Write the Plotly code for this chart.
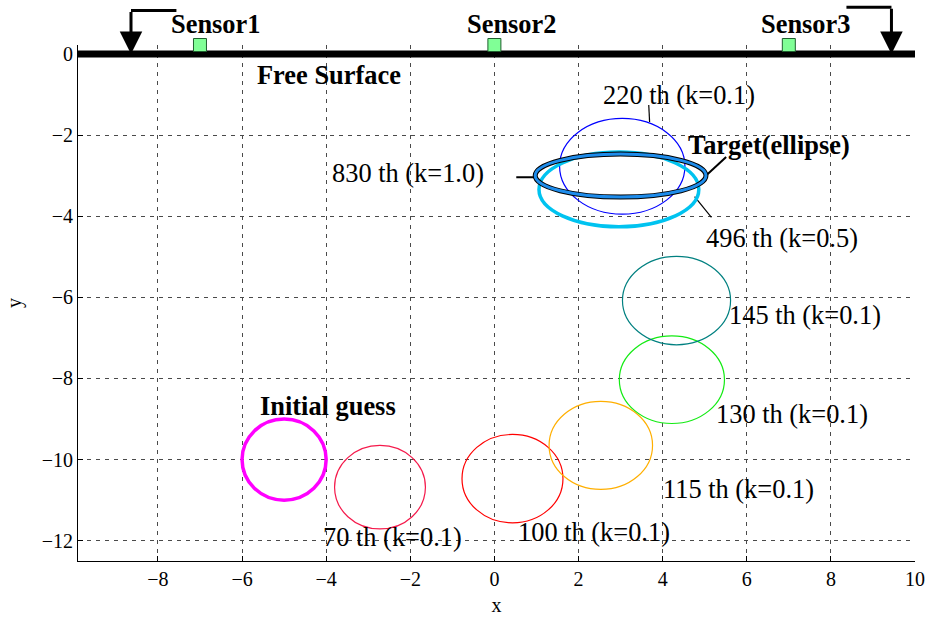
import plotly.graph_objects as go

# ---------------- data ----------------
X_RANGE = [-9.9, 10]
Y_RANGE = [-12.5, 0.22]
x_ticks = [-8, -6, -4, -2, 0, 2, 4, 6, 8, 10]
y_ticks = [0, -2, -4, -6, -8, -10, -12]

# ellipses: name, centre x, centre y, semi-axis x, semi-axis y
ell_names = ["220 th", "496 th", "Target", "830 th", "Initial guess",
             "70 th", "100 th", "115 th", "130 th", "145 th"]
ell_cx = [3.04, 2.96, 3.0, 3.0, -5.0, -2.72, 0.43, 2.53, 4.22, 4.33]
ell_cy = [-2.77, -3.34, -3.0, -3.0, -10.0, -10.68, -10.47, -9.65, -8.03, -6.08]
ell_rx = [1.49, 1.90, 2.03, 2.03, 1.0, 1.08, 1.20, 1.23, 1.25, 1.285]
ell_ry = [1.18, 0.92, 0.53, 0.53, 1.0, 1.03, 1.09, 1.085, 1.08, 1.09]
ell_colors = ["#0000ff", "rgb(0,195,240)", "#000000", "rgb(30,140,235)", "#ff00ff",
              "rgb(245,25,75)", "#ff0000", "rgb(255,175,0)", "rgb(20,235,20)", "rgb(0,128,128)"]
ell_widths = [1.2, 3.5, 5, 3, 3.5, 1.2, 1.2, 1.2, 1.2, 1.2]

# sensors
sensor_x = [-7.0, 0.0, 7.0]
sensor_y = [0.22, 0.22, 0.22]
sensor_labels = ["Sensor1", "Sensor2", "Sensor3"]
sensor_label_x = [-6.63, 0.41, 7.40]
sensor_label_y = [0.73, 0.73, 0.73]

# free surface line
surface_x = [-9.9, 10]
surface_y = [0, 0]

# flow arrows: horizontal tail, then down to the surface
arrow_tail_x = [-7.56, 8.37]
arrow_corner_x = [-8.64, 9.44]
arrow_top_y = [1.07, 1.15]

# text labels (centre positions)
labels = ["<b>Free Surface</b>", "220 th (k=0.1)", "<b>Target(ellipse)</b>", "830 th (k=1.0)",
          "496 th (k=0.5)", "145 th (k=0.1)", "130 th (k=0.1)", "115 th (k=0.1)",
          "100 th (k=0.1)", "70 th (k=0.1)", "<b>Initial guess</b>"]
label_x = [-3.94, 4.40, 6.52, -2.05, 6.83, 7.38, 7.07, 5.81, 2.37, -2.42, -3.96]
label_y = [-0.52, -1.01, -2.25, -2.94, -4.54, -6.44, -8.87, -10.72, -11.79, -11.91, -8.68]

# leader lines (x0, y0, x1, y1)
leader_x0 = [3.67, 5.04, 4.76, 0.52]
leader_y0 = [-1.26, -2.99, -3.52, -3.04]
leader_x1 = [3.69, 5.51, 5.16, 1.00]
leader_y1 = [-1.68, -2.54, -4.03, -3.04]
leader_w = [1.2, 2, 1.2, 2]

FONT = "Liberation Serif"
LABEL_SIZE = 26.4

fig = go.Figure()

# free surface
fig.add_trace(go.Scatter(x=surface_x, y=surface_y, mode="lines",
                         line=dict(color="black", width=7), hoverinfo="skip", showlegend=False))

# leader lines
for i in range(len(leader_x0)):
    fig.add_trace(go.Scatter(x=[leader_x0[i], leader_x1[i]], y=[leader_y0[i], leader_y1[i]],
                             mode="lines", line=dict(color="black", width=leader_w[i]),
                             hoverinfo="skip", showlegend=False))

# sensors
fig.add_trace(go.Scatter(x=sensor_x, y=sensor_y, mode="markers", cliponaxis=False,
                         marker=dict(symbol="square", size=13, color="rgb(128,255,150)",
                                     line=dict(color="#1f5f2f", width=1)),
                         hoverinfo="skip", showlegend=False))

shapes = []
for i in range(len(ell_names)):
    shapes.append(dict(type="circle", xref="x", yref="y",
                       x0=ell_cx[i] - ell_rx[i], x1=ell_cx[i] + ell_rx[i],
                       y0=ell_cy[i] - ell_ry[i], y1=ell_cy[i] + ell_ry[i],
                       line=dict(color=ell_colors[i], width=ell_widths[i])))


def to_paper(yv):
    return (yv - Y_RANGE[0]) / (Y_RANGE[1] - Y_RANGE[0])


for i in range(len(arrow_tail_x)):
    shapes.append(dict(type="line", xref="x", yref="paper",
                       x0=arrow_tail_x[i], x1=arrow_corner_x[i],
                       y0=to_paper(arrow_top_y[i]), y1=to_paper(arrow_top_y[i]),
                       line=dict(color="black", width=3)))

annotations = []
for i in range(len(arrow_tail_x)):
    annotations.append(dict(x=arrow_corner_x[i], y=0, ax=arrow_corner_x[i], ay=arrow_top_y[i],
                            xref="x", yref="y", axref="x", ayref="y", text="",
                            showarrow=True, arrowhead=2, arrowsize=1.5, arrowwidth=3,
                            arrowcolor="black"))
for i in range(len(labels)):
    annotations.append(dict(x=label_x[i], y=label_y[i], xref="x", yref="y", text=labels[i],
                            showarrow=False, xanchor="center", yanchor="middle",
                            font=dict(family=FONT, size=LABEL_SIZE, color="black")))
for i in range(len(sensor_labels)):
    annotations.append(dict(x=sensor_label_x[i], y=to_paper(sensor_label_y[i]), xref="x", yref="paper",
                            text="<b>%s</b>" % sensor_labels[i], showarrow=False,
                            xanchor="center", yanchor="middle",
                            font=dict(family=FONT, size=LABEL_SIZE, color="black")))

fig.update_layout(
    width=929, height=618,
    margin=dict(l=78, r=14, t=45, b=57),
    paper_bgcolor="white", plot_bgcolor="white",
    shapes=shapes, annotations=annotations,
    font=dict(family=FONT, size=20, color="black"),
    showlegend=False,
)
grid = dict(showgrid=True, gridcolor="#4a4a4a", griddash="4px,5px", gridwidth=1,
            zeroline=False, showline=True, linecolor="black", linewidth=1,
            ticks="inside", ticklen=5, tickcolor="black", mirror=False, automargin=False,
            tickfont=dict(family=FONT, size=20, color="black"))
fig.update_xaxes(range=X_RANGE, tickvals=x_ticks,
                 ticktext=[("\u2212%d" % -v) if v < 0 else str(v) for v in x_ticks],
                 title=dict(text="x", font=dict(family=FONT, size=20), standoff=8), **grid)
fig.update_yaxes(range=Y_RANGE, tickvals=y_ticks,
                 ticktext=[("\u2212%d" % -v) if v < 0 else str(v) for v in y_ticks],
                 title=dict(text="y", font=dict(family=FONT, size=20), standoff=14), **grid)

fig.write_html("out.html")
